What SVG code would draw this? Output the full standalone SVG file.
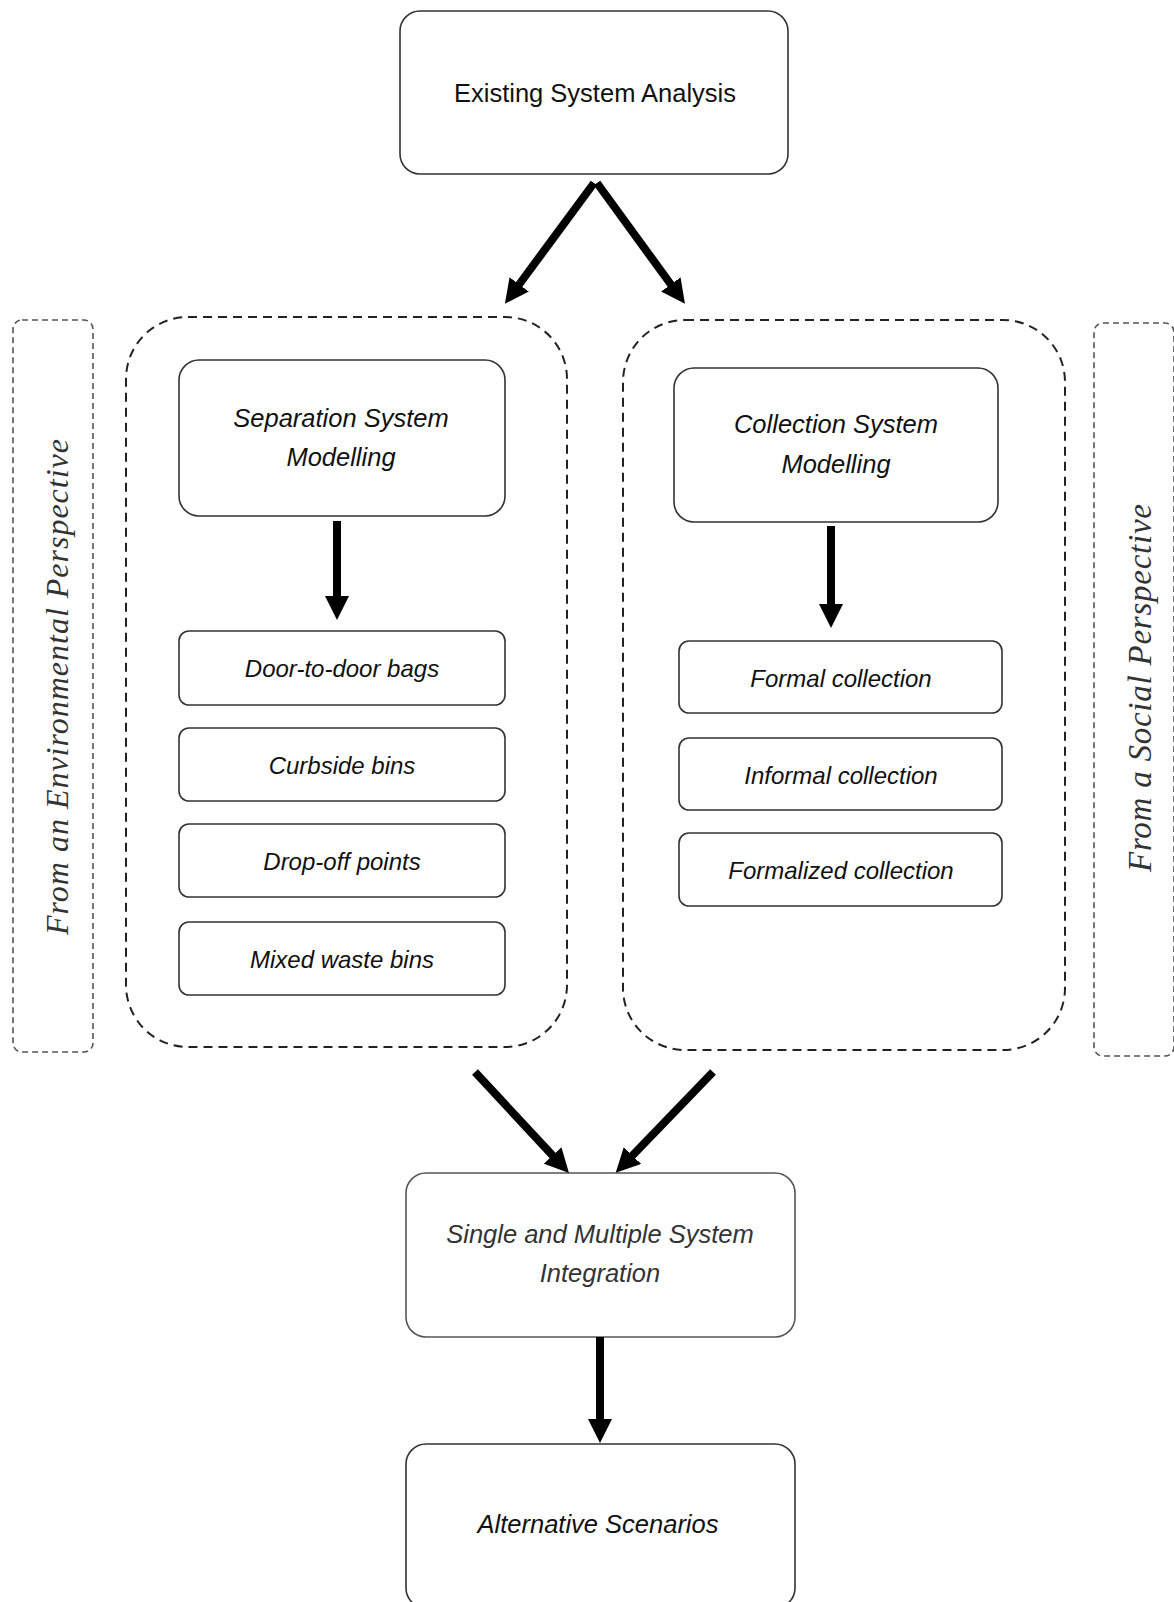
<svg xmlns="http://www.w3.org/2000/svg" width="1174" height="1602" viewBox="0 0 1174 1602">
<defs>
<marker id="ah" viewBox="0 0 24 24" refX="2" refY="12" markerWidth="24" markerHeight="24" markerUnits="userSpaceOnUse" orient="auto">
<path d="M0,0 L24,12 L0,24 z" fill="#000"/>
</marker>
<style>
.box{fill:#fff;stroke:#333;stroke-width:1.6}
.big{fill:none;stroke:#222;stroke-width:2;stroke-dasharray:9 6}
.persp{fill:none;stroke:#555;stroke-width:1.6;stroke-dasharray:6 4}
.t{font-family:"Liberation Sans",Arial,sans-serif;fill:#111;text-anchor:middle}
.i{font-style:italic;font-size:24px}
.m{font-style:italic;font-size:25.5px}
.p{font-family:"Liberation Serif","Times New Roman",serif;font-style:italic;fill:#333;text-anchor:middle}
.c{stroke:#000;stroke-width:8;fill:none;marker-end:url(#ah)}
</style>
</defs>
<rect width="1174" height="1602" fill="#fff"/>

<g id="env-perspective">
<rect class="persp" x="13" y="320" width="80" height="732" rx="9"/>
<text class="p" font-size="32" textLength="496" lengthAdjust="spacing" transform="translate(68,687) rotate(-90)">From an Environmental Perspective</text>
</g>
<g id="soc-perspective">
<rect class="persp" x="1094" y="323" width="80" height="733" rx="9"/>
<text class="p" font-size="33" textLength="368" lengthAdjust="spacing" transform="translate(1151,688) rotate(-90)">From a Social Perspective</text>
</g>

<g id="separation-group">
<rect class="big" x="126" y="317" width="441" height="730" rx="62"/>
</g>
<g id="collection-group">
<rect class="big" x="623" y="320" width="442" height="730" rx="62"/>
</g>

<g id="existing">
<rect class="box" x="400" y="11" width="388" height="163" rx="20"/>
<text class="t" x="595" y="102" font-size="25.5">Existing System Analysis</text>
</g>

<g id="separation">
<rect class="box" x="179" y="360" width="326" height="156" rx="20"/>
<text class="t m" x="341" y="427">Separation System</text>
<text class="t m" x="341" y="466">Modelling</text>
</g>
<g id="door">
<rect class="box" x="179" y="631" width="326" height="74" rx="10"/>
<text class="t i" x="342" y="677">Door-to-door bags</text>
</g>
<g id="curbside">
<rect class="box" x="179" y="728" width="326" height="73" rx="10"/>
<text class="t i" x="342" y="774">Curbside bins</text>
</g>
<g id="dropoff">
<rect class="box" x="179" y="824" width="326" height="73" rx="10"/>
<text class="t i" x="342" y="870">Drop-off points</text>
</g>
<g id="mixed">
<rect class="box" x="179" y="922" width="326" height="73" rx="10"/>
<text class="t i" x="342" y="968">Mixed waste bins</text>
</g>

<g id="collection">
<rect class="box" x="674" y="368" width="324" height="154" rx="20"/>
<text class="t m" x="836" y="433">Collection System</text>
<text class="t m" x="836" y="473">Modelling</text>
</g>
<g id="formal">
<rect class="box" x="679" y="641" width="323" height="72" rx="10"/>
<text class="t i" x="841" y="687">Formal collection</text>
</g>
<g id="informal">
<rect class="box" x="679" y="738" width="323" height="72" rx="10"/>
<text class="t i" x="841" y="784">Informal collection</text>
</g>
<g id="formalized">
<rect class="box" x="679" y="833" width="323" height="73" rx="10"/>
<text class="t i" x="841" y="879">Formalized collection</text>
</g>

<g id="integration">
<rect class="box" x="406" y="1173" width="389" height="164" rx="20" style="stroke:#555"/>
<text class="t m" x="600" y="1243" style="fill:#333">Single and Multiple System</text>
<text class="t m" x="600" y="1282" style="fill:#333">Integration</text>
</g>

<g id="alternative">
<rect class="box" x="406" y="1444" width="389" height="164" rx="20"/>
<text class="t m" x="598" y="1533">Alternative Scenarios</text>
</g>

<g id="connectors">
<line class="c" x1="594" y1="183" x2="518" y2="286"/>
<line class="c" x1="597" y1="183" x2="672" y2="286"/>
<line class="c" x1="337" y1="521" x2="337" y2="598"/>
<line class="c" x1="831" y1="526" x2="831" y2="606"/>
<line class="c" x1="475" y1="1072" x2="554" y2="1157"/>
<line class="c" x1="713" y1="1072" x2="631" y2="1157"/>
<line class="c" x1="600" y1="1337" x2="600" y2="1421"/>
</g>
</svg>
